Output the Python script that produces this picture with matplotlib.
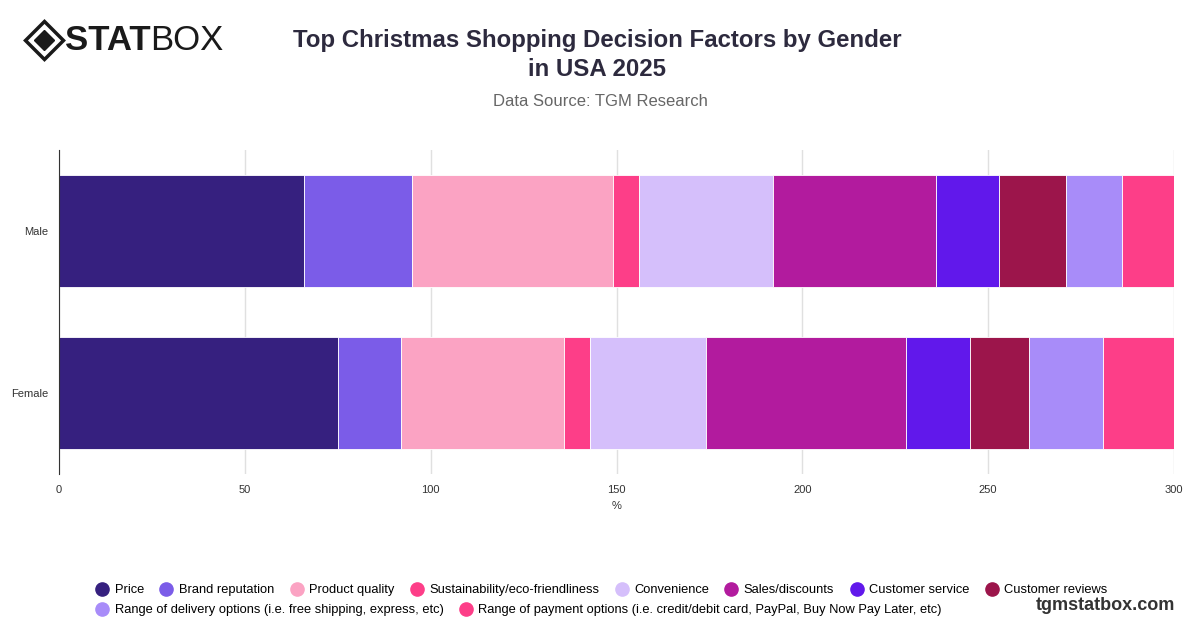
import matplotlib
matplotlib.use("Agg")
import matplotlib.pyplot as plt
from matplotlib.lines import Line2D

plt.rcParams['font.family'] = ['Liberation Sans', 'DejaVu Sans']

categories = ["Male", "Female"]
factors = ["Price", "Brand reputation", "Product quality", "Sustainability/eco-friendliness",
           "Convenience", "Sales/discounts", "Customer service", "Customer reviews",
           "Range of delivery options (i.e. free shipping, express, etc)",
           "Range of payment options (i.e. credit/debit card, PayPal, Buy Now Pay Later, etc)"]
male = [66, 29, 54, 7, 36, 44, 17, 18, 15, 14]
female = [75, 17, 44, 7, 31, 54, 17, 16, 20, 19]
colors = ["#36207f", "#7b5ce8", "#fba3c3", "#fd3e88", "#d5bffb", "#b21b9e",
          "#6118eb", "#9c154b", "#a88cf9", "#fd3e88"]
xticks = [0, 50, 100, 150, 200, 250, 300]

fig = plt.figure(figsize=(12, 6.28), dpi=100)
ax = fig.add_axes([59/1200, 1-474/628, (1174-59)/1200, (474-150)/628])
ypos = [1, 0]
vals = [male, female]
for yi, v in zip(ypos, vals):
    left = 0
    for i, val in enumerate(v):
        ax.barh(yi, val, left=left, color=colors[i], height=0.69, edgecolor="white", linewidth=0.6)
        left += val
ax.set_xlim(0, 300)
ax.set_ylim(-0.5, 1.5)
ax.set_yticks(ypos)
ax.set_yticklabels(categories, fontsize=8, color="#333")
ax.set_xticks(xticks)
ax.set_xticklabels([str(t) for t in xticks], fontsize=8, color="#333")
ax.set_xlabel("%", fontsize=8, color="#333")
ax.grid(axis="x", color="#e0e0e0", linewidth=1)
ax.set_axisbelow(True)
for s in ["top", "right", "bottom"]:
    ax.spines[s].set_visible(False)
ax.spines["left"].set_color("#333")
ax.tick_params(axis="y", length=0, pad=8)
ax.tick_params(axis="x", length=0, pad=8)

fig.text(597/1200, 1-55/628, "Top Christmas Shopping Decision Factors by Gender\nin USA 2025",
         ha="center", va="center", fontsize=17.3, fontweight="bold", color="#2d2a3e", linespacing=1.35)
fig.text(600/1200, 1-102/628, "Data Source: TGM Research", ha="center", va="center", fontsize=12, color="#666")

# logo
fig.add_artist(Line2D([44/1200], [1-40/628], marker="D", markersize=19, markerfacecolor="white",
                      markeredgecolor="#1a1a1a", markeredgewidth=2.5, transform=fig.transFigure))
fig.add_artist(Line2D([44/1200], [1-40/628], marker="D", markersize=10, color="#1a1a1a",
                      transform=fig.transFigure))
fig.text(65/1200, 1-40/628, "STAT", fontsize=25, fontweight="bold", color="#1a1a1a", va="center")
fig.text(150/1200, 1-40/628, "BOX", fontsize=25, color="#1a1a1a", va="center")
fig.text(1175/1200, 1-606/628, "tgmstatbox.com", ha="right", va="center", fontsize=13,
         fontweight="bold", color="#333")

def handle(c):
    return Line2D([], [], marker="o", linestyle="", markersize=9.5, markerfacecolor=c, markeredgecolor=c)
row1 = list(range(8)); row2 = [8, 9]
fig.legend([handle(colors[i]) for i in row1], [factors[i] for i in row1], loc="center",
           bbox_to_anchor=(600/1200, 1-590/628), ncol=8, frameon=False, fontsize=9.3,
           handletextpad=0.2, columnspacing=1.0, handlelength=1.5)
fig.legend([handle(colors[i]) for i in row2], [factors[i] for i in row2], loc="center left",
           bbox_to_anchor=(81/1200, 1-610/628), ncol=2, frameon=False, fontsize=9.3,
           handletextpad=0.2, columnspacing=1.0, handlelength=1.5)
fig.savefig("out.png", dpi=100, facecolor="white")
